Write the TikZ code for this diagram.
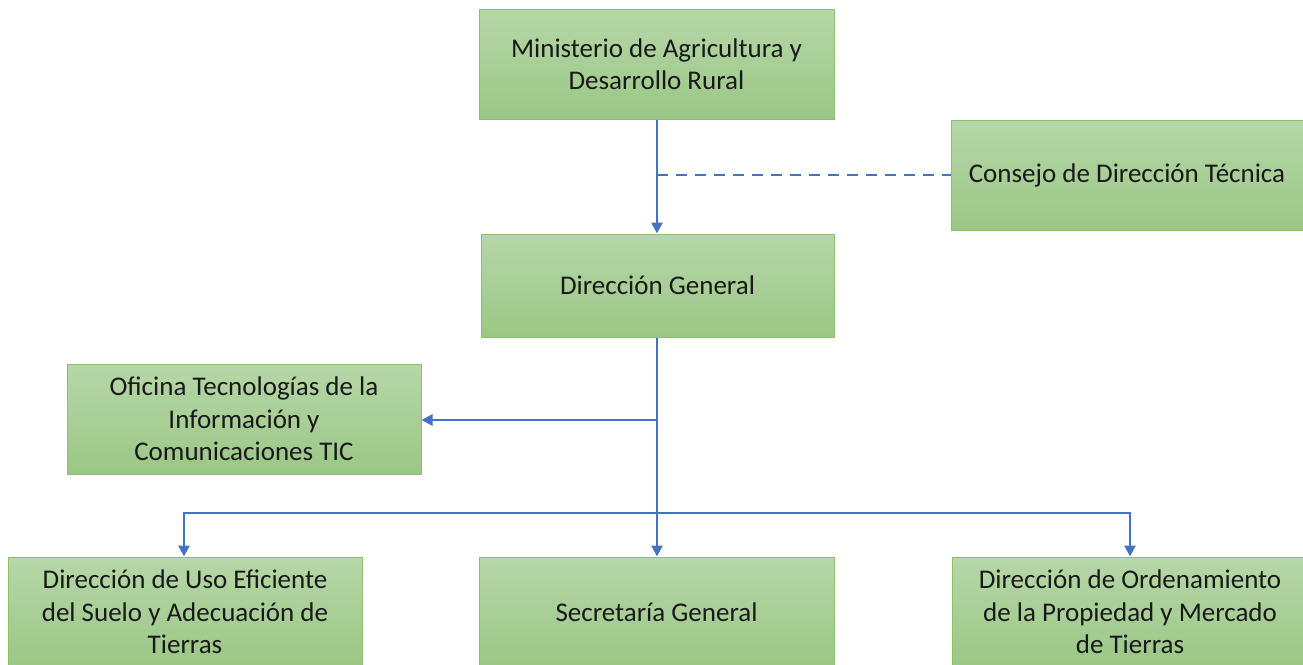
\documentclass[tikz,border=0pt]{standalone}
\usepackage{fontspec}
\setmainfont{Carlito}
\usetikzlibrary{arrows.meta}
\definecolor{boxtop}{HTML}{B6D7A8}
\definecolor{boxbot}{HTML}{9BC785}
\definecolor{boxline}{HTML}{8CBF6F}
\definecolor{link}{HTML}{4472C4}
\tikzset{
  orgbox/.style={draw=boxline, line width=1pt, top color=boxtop, bottom color=boxbot,
    minimum width=#1, align=center, inner sep=0pt,
    font=\fontsize{27}{32.5}\selectfont, text=black!90},
  orgbox/.default=354pt,
  conn/.style={draw=link, line width=2.8pt, -{Triangle[length=11pt,width=11pt]}},
  dashconn/.style={draw=link, line width=2.8pt, dash pattern=on 11pt off 8pt}
}
\begin{document}
\begin{tikzpicture}[x=1pt,y=-1pt]
\useasboundingbox (0,0) rectangle (1303,664);
\fill[white] (0,0) rectangle (1303,664);
\node[orgbox=355pt, minimum height=110pt] (min) at (656.5,64) {Ministerio de Agricultura y\\Desarrollo Rural};
\node[orgbox=364pt, minimum height=110pt] (cons) at (1133,175) {\hspace*{-12pt}Consejo de Dirección Técnica};
\node[orgbox=353pt, minimum height=103pt] (dg) at (657.5,285.5) {Dirección General};
\node[orgbox=354pt, minimum height=110pt] (tic) at (244,419) {Oficina Tecnologías de la\\Información y\\Comunicaciones TIC};
\node[orgbox=354pt, minimum height=110pt] (uso) at (185,612) {Dirección de Uso Eficiente\\del Suelo y Adecuación de\\Tierras};
\node[orgbox=355pt, minimum height=110pt] (sec) at (656.5,612) {Secretaría General};
\node[orgbox=356pt, minimum height=110pt] (ord) at (1130,612) {Dirección de Ordenamiento\\de la Propiedad y Mercado\\de Tierras};
\coordinate (dj) at (657,175);
\coordinate (tj) at (657,420);
\coordinate (bus) at (657,513);
\coordinate (busL) at (184,513);
\coordinate (busR) at (1130,513);
\draw[conn] (min.south -| dj) -- (dg.north -| dj);
\draw[dashconn] (dj) -- (cons.west);
\draw[conn] (dg.south -| tj) -- (sec.north -| tj);
\draw[conn] (tj) -- (tic.east |- tj);
\draw[conn] (bus) -- (busL) -- (uso.north -| busL);
\draw[conn] (bus) -- (busR) -- (ord.north -| busR);
\end{tikzpicture}
\end{document}
